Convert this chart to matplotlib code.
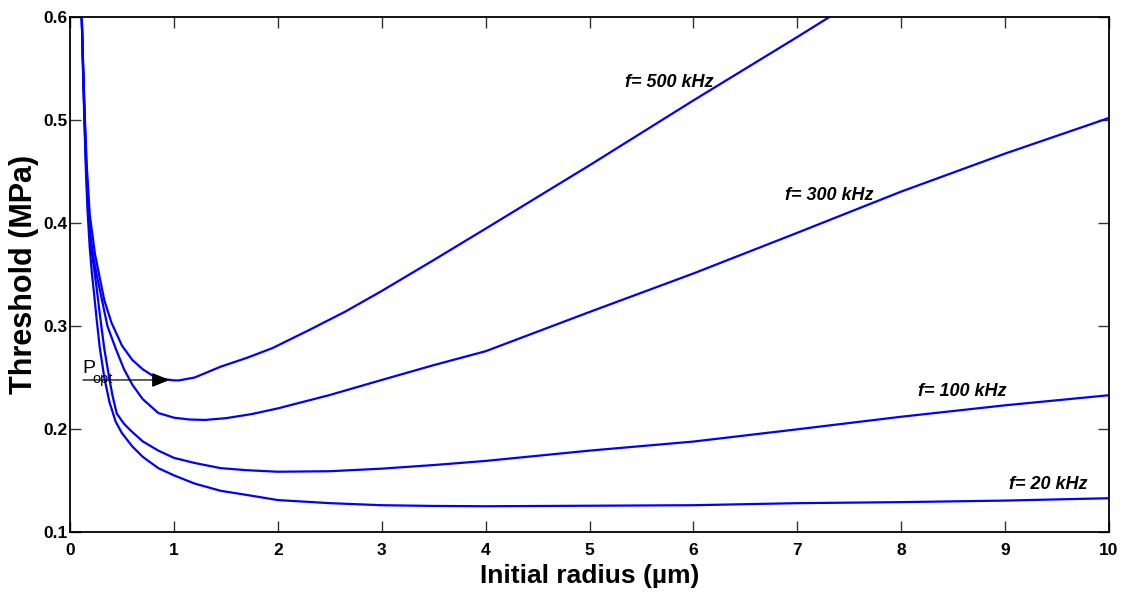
import matplotlib
matplotlib.use("Agg")
import matplotlib.pyplot as plt

# ---- data ----
r_20 = [0.113, 0.125, 0.14, 0.155, 0.17, 0.19, 0.21, 0.23, 0.255, 0.285, 0.33, 0.38, 0.44, 0.5,
        0.6, 0.7, 0.85, 1.0, 1.2, 1.45, 1.7, 2.0, 2.5, 3.0, 3.5, 4, 5, 6, 7, 8, 9, 10]
p_20 = [0.600, 0.548, 0.493, 0.445, 0.410, 0.376, 0.352, 0.333, 0.308, 0.280, 0.250, 0.226, 0.207, 0.196,
        0.183, 0.173, 0.162, 0.155, 0.147, 0.140, 0.136, 0.131, 0.128, 0.126, 0.1253, 0.125, 0.1255,
        0.126, 0.128, 0.129, 0.1305, 0.1328]

r_100 = [0.113, 0.125, 0.14, 0.155, 0.175, 0.2, 0.23, 0.26, 0.29, 0.33, 0.38, 0.41, 0.45, 0.52,
         0.6, 0.7, 0.85, 1.0, 1.2, 1.45, 1.7, 2.0, 2.5, 3.0, 3.5, 4, 5, 6, 7, 8, 9, 10]
p_100 = [0.600, 0.553, 0.500, 0.455, 0.410, 0.378, 0.357, 0.334, 0.309, 0.278, 0.248, 0.232, 0.215, 0.205,
         0.197, 0.188, 0.179, 0.172, 0.167, 0.162, 0.160, 0.1585, 0.159, 0.1615, 0.165, 0.169, 0.179,
         0.1878, 0.1997, 0.2119, 0.223, 0.2328]

r_300 = [0.113, 0.125, 0.14, 0.16, 0.18, 0.2, 0.23, 0.26, 0.3, 0.36, 0.44, 0.52, 0.6, 0.7, 0.85,
         1.0, 1.15, 1.3, 1.5, 1.75, 2.0, 2.5, 3.0, 3.5, 4, 5, 6, 7, 8, 9, 10]
p_300 = [0.600, 0.556, 0.505, 0.450, 0.410, 0.385, 0.364, 0.348, 0.329, 0.300, 0.278, 0.258, 0.243,
         0.229, 0.2155, 0.211, 0.2092, 0.2088, 0.2105, 0.2145, 0.220, 0.233, 0.2476, 0.262, 0.2755,
         0.3136, 0.351, 0.3905, 0.4305, 0.4674, 0.502]

r_500 = [0.113, 0.125, 0.14, 0.16, 0.19, 0.24, 0.28, 0.33, 0.4, 0.5, 0.6, 0.7, 0.8, 0.9, 1.0,
         1.05, 1.2, 1.45, 1.7, 1.95, 2.3, 2.65, 3.0, 3.5, 4, 5, 6, 7, 7.5]
p_500 = [0.600, 0.558, 0.510, 0.458, 0.408, 0.370, 0.350, 0.325, 0.303, 0.281, 0.267, 0.258,
         0.2515, 0.2485, 0.2472, 0.2472, 0.250, 0.2605, 0.269, 0.2786, 0.296, 0.314, 0.334, 0.364,
         0.3945, 0.456, 0.519, 0.5806, 0.612]

curve_labels = ["f= 20 kHz", "f= 100 kHz", "f= 300 kHz", "f= 500 kHz"]
label_xy = [(9.04, 0.146), (8.16, 0.236), (6.88, 0.427), (5.34, 0.5365)]

x_ticks = list(range(0, 11))
y_ticks = [0.1, 0.2, 0.3, 0.4, 0.5, 0.6]

popt_r = 0.96
popt_p = 0.2476

sans = ["Liberation Sans", "DejaVu Sans"]

fig = plt.figure(figsize=(11.26, 6.02), dpi=100)
ax = fig.add_axes([70 / 1126, 1 - 532 / 602, 1039 / 1126, 515 / 602])

for r, p in [(r_20, p_20), (r_100, p_100), (r_300, p_300), (r_500, p_500)]:
    ax.plot(r, p, color="#0000ff", lw=1.6)

for txt, (lx, ly) in zip(curve_labels, label_xy):
    ax.text(lx, ly, txt, family=sans, fontsize=13, fontweight="bold",
            fontstyle="italic", ha="left", va="center")

# P_opt marker
ax.annotate("", xy=(popt_r, popt_p), xytext=(0.124, popt_p),
            arrowprops=dict(arrowstyle="-|>,head_length=1.0,head_width=0.4",
                            color="black", lw=0.9, shrinkA=0, shrinkB=0,
                            mutation_scale=11))
ax.text(0.121, 0.254, "P", family=sans, fontsize=14, ha="left", va="baseline")
ax.text(0.22, 0.2444, "opt", family=sans, fontsize=10.5, ha="left", va="baseline")

ax.set_xlim(0, 10)
ax.set_ylim(0.1, 0.6)
ax.set_xticks(x_ticks)
ax.set_yticks(y_ticks)
ax.set_xticklabels([str(t) for t in x_ticks], family=sans, fontsize=12.5, fontweight="bold")
ax.set_yticklabels([f"{t:.1f}" for t in y_ticks], family=sans, fontsize=12.5, fontweight="bold")
ax.tick_params(direction="in", top=True, right=True, length=8, width=1, color="#333333")
ax.tick_params(axis="x", pad=8)
ax.tick_params(axis="y", pad=1.5)
for s in ax.spines.values():
    s.set_linewidth(1.3)

ax.set_xlabel("Initial radius (\u00b5m)", family=sans, fontsize=19, fontweight="bold", va="top")
ax.set_ylabel("Threshold (MPa)", family=sans, fontsize=22, fontweight="bold")
ax.xaxis.set_label_coords(0.5, -0.062)
ax.yaxis.set_label_coords(-0.03, 0.5)

fig.savefig("out.png", dpi=100)
